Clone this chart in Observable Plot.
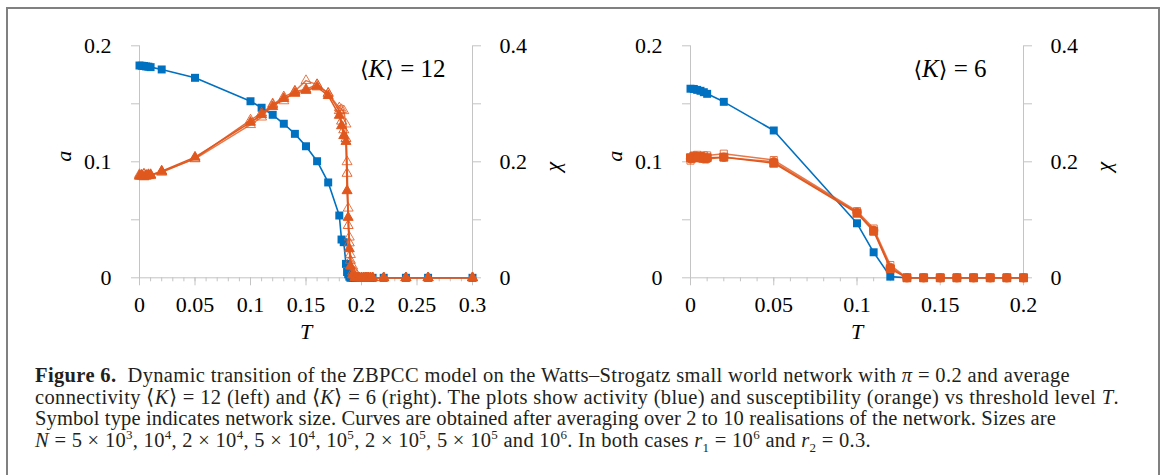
<!DOCTYPE html>
<html><head><meta charset="utf-8">
<script src="https://cdn.jsdelivr.net/npm/d3@7"></script>
<script src="https://cdn.jsdelivr.net/npm/@observablehq/plot@0.6"></script>
<style>
body{margin:0;background:#fff;width:1163px;height:475px;overflow:hidden;position:relative;font-family:"Liberation Serif",serif}
#frame{position:absolute;left:6px;top:7px;width:1150px;height:480px;border:2px solid #808080;border-bottom:none}
#left{position:absolute;left:0;top:0}
#right{position:absolute;left:551px;top:0}
#caption{position:absolute;left:35px;top:365px;font-size:20.5px;line-height:21.7px;color:#231f20;white-space:nowrap}
#caption .ln{display:block}
#caption .ln span.in{display:inline-block}
sup,sub{font-size:13px;line-height:0}
</style></head>
<body>
<div id="frame"></div>
<div id="left"></div>
<div id="right"></div>
<div id="caption">
<div class="ln"><span class="in"><b>Figure 6.</b>&nbsp; Dynamic transition of the ZBPCC model on the Watts–Strogatz small world network with <i>π</i> = 0.2 and average</span></div>
<div class="ln"><span class="in">connectivity ⟨<i>K</i>⟩ = 12 (left) and ⟨<i>K</i>⟩ = 6 (right). The plots show activity (blue) and susceptibility (orange) vs threshold level <i>T</i>.</span></div>
<div class="ln"><span class="in">Symbol type indicates network size. Curves are obtained after averaging over 2 to 10 realisations of the network. Sizes are</span></div>
<div class="ln"><span class="in"><i>N</i> = 5 × 10<sup>3</sup>, 10<sup>4</sup>, 2 × 10<sup>4</sup>, 5 × 10<sup>4</sup>, 10<sup>5</sup>, 2 × 10<sup>5</sup>, 5 × 10<sup>5</sup> and 10<sup>6</sup>. In both cases <i>r</i><sub>1</sub> = 10<sup>6</sup> and <i>r</i><sub>2</sub> = 0.3.</span></div>
</div>
<script>
// ---------- data: <K> = 12 (left panel) ----------
const T12 = [0, 0.002, 0.004, 0.006, 0.008, 0.01, 0.02, 0.05, 0.1, 0.11, 0.12, 0.13, 0.14, 0.15, 0.16, 0.17, 0.18, 0.182, 0.184, 0.186, 0.187, 0.188, 0.189, 0.19, 0.192, 0.194, 0.196, 0.198, 0.2, 0.202, 0.204, 0.206, 0.208, 0.21, 0.22, 0.24, 0.26, 0.3];
const a12 = [0.183, 0.1828, 0.1826, 0.1822, 0.182, 0.1816, 0.1796, 0.1724, 0.1522, 0.1466, 0.1405, 0.1328, 0.1241, 0.1134, 0.1005, 0.0822, 0.0537, 0.033, 0.0307, 0.012, 0.005, 0.003, 0.001, 0, 0, 0, 0, 0, 0, 0, 0, 0, 0, 0, 0, 0, 0, 0];
const chi12_large = [0.175, 0.177, 0.174, 0.176, 0.177, 0.177, 0.184, 0.208, 0.268, 0.281, 0.295, 0.309, 0.318, 0.323, 0.329, 0.314, 0.280, 0.262, 0.245, 0.235, 0.150, 0.104, 0.050, 0.020, 0.005, 0, 0, 0, 0, 0, 0, 0, 0, 0, 0, 0, 0, 0];
const chi12_mid = [0.176, 0.175, 0.178, 0.175, 0.176, 0.178, 0.182, 0.206, 0.272, 0.284, 0.298, 0.312, 0.321, 0.325, 0.333, 0.318, 0.288, 0.270, 0.255, 0.240, 0.180, 0.090, 0.060, 0.030, 0.010, 0.003, 0, 0, 0, 0, 0, 0, 0, 0, 0, 0, 0, 0];
const chi12_small = [0.178, 0.176, 0.179, 0.177, 0.178, 0.176, 0.183, 0.205, 0.264, 0.277, 0.300, 0.305, 0.322, 0.340, 0.333, 0.318, 0.293, 0.290, 0.288, 0.265, 0.200, 0.120, 0.070, 0.040, 0.020, 0.010, 0.004, 0, 0, 0, 0, 0, 0, 0, 0, 0, 0, 0];

// ---------- data: <K> = 6 (right panel) ----------
const T6 = [0, 0.002, 0.004, 0.006, 0.008, 0.01, 0.02, 0.05, 0.1, 0.11, 0.12, 0.13, 0.14, 0.15, 0.16, 0.17, 0.18, 0.19, 0.2];
const a6 = [0.163, 0.1628, 0.162, 0.1612, 0.160, 0.1586, 0.1517, 0.127, 0.047, 0.022, 0.001, 0, 0, 0, 0, 0, 0, 0, 0];
const chi6_sq = [0.207, 0.209, 0.208, 0.209, 0.207, 0.207, 0.208, 0.1976, 0.1114, 0.0803, 0.0155, 0, 0, 0, 0, 0, 0, 0, 0];
const chi6_open = [0.202, 0.211, 0.212, 0.210, 0.211, 0.211, 0.214, 0.203, 0.115, 0.085, 0.022, 0, 0, 0, 0, 0, 0, 0, 0];
const chi6_circ = [0.205, 0.206, 0.207, 0.206, 0.205, 0.205, 0.208, 0.200, 0.113, 0.082, 0.018, 0, 0, 0, 0, 0, 0, 0, 0];

// ---------- ticks ----------
const yTicks = [0, 0.05, 0.1, 0.15, 0.2];
const yLabels = ["0", "", "0.1", "", "0.2"];
const chiLabels = ["0", "", "0.2", "", "0.4"];
const xMajor12 = [0, 0.05, 0.1, 0.15, 0.2, 0.25, 0.3];
const xLabels12 = ["0", "0.05", "0.1", "0.15", "0.2", "0.25", "0.3"];
const xMajor6 = [0, 0.05, 0.1, 0.15, 0.2];
const xLabels6 = ["0", "0.05", "0.1", "0.15", "0.2"];

const BLUE = "#0070c0", ORANGE = "#e0581e", GRID = "#c4c4c4";

function rows(T, v) { return T.map((t, i) => ({T: t, v: v[i]})); }

function panel({T, a, chis, xMajor, xLabels, step, annot, annotDx}) {
  const xDomain = [xMajor[0], xMajor[xMajor.length - 1]];
  const minor = d3.range(0, Math.round(xDomain[1] / step) + 1).map(i => +(i * step).toFixed(4));
  const blue = rows(T, a);
  const marks = [
    Plot.ruleX(xDomain, {stroke: GRID}),
    Plot.ruleY([0], {stroke: GRID}),
    Plot.axisX({ticks: minor, tickSize: 4, tickFormat: () => "", stroke: GRID, label: null}),
    Plot.axisX({ticks: xMajor, tickSize: 8, tickPadding: 11, tickFormat: d => xLabels[xMajor.indexOf(d)], stroke: GRID, label: null}),
    Plot.axisY({ticks: yTicks, tickSize: 8, tickPadding: 20, tickFormat: d => yLabels[yTicks.indexOf(d)], stroke: GRID, label: null}),
    Plot.axisY({anchor: "right", ticks: yTicks, tickSize: 8, tickPadding: 19, tickFormat: d => chiLabels[yTicks.indexOf(d)], stroke: GRID, label: null}),
    Plot.text(["T"], {frameAnchor: "bottom", dy: 61, fontStyle: "italic"}),
    Plot.text(["a"], {frameAnchor: "left", dx: -76, rotate: -90, fontStyle: "italic"}),
    Plot.text(["χ"], {frameAnchor: "right", dx: 80, rotate: -90, fontStyle: "italic"}),
    Plot.text([annot], {frameAnchor: "top-right", textAnchor: "end", dx: annotDx, dy: 13, fontSize: 25, className: "annot"}),
    Plot.line(blue, {x: "T", y: "v", stroke: BLUE, strokeWidth: 1.6}),
    Plot.dot(blue, {x: "T", y: "v", symbol: "square", fill: BLUE, r: 4.5})
  ];
  for (const c of chis) {
    const d = rows(T, c.v);
    marks.push(Plot.line(d, {x: "T", y: dd => dd.v / 2, stroke: ORANGE, strokeWidth: 1.5, strokeOpacity: c.op}));
    marks.push(Plot.dot(d, {x: "T", y: dd => dd.v / 2, symbol: c.sym, r: c.r,
      fill: c.filled ? ORANGE : "white", fillOpacity: c.filled ? 1 : 0, stroke: ORANGE, strokeWidth: 1, strokeOpacity: c.op}));
  }
  const svg = Plot.plot({
    width: 580, height: 350,
    marginLeft: 139, marginRight: 108, marginTop: 45.3, marginBottom: 72.7,
    x: {domain: xDomain}, y: {domain: [0, 0.2]},
    style: {fontFamily: "'Liberation Serif', serif", fontSize: "22px", color: "#000", background: "transparent", overflow: "visible"},
    marks
  });
  d3.select(svg).selectAll(".annot text").each(function() {
    const t = d3.select(this).text();
    const m = t.match(/^⟨K⟩ = (\d+)$/);
    if (m) d3.select(this).html(`<tspan font-family="DejaVu Serif" font-size="22">⟨</tspan><tspan font-style="italic">K</tspan><tspan font-family="DejaVu Serif" font-size="22">⟩</tspan> = ${m[1]}`);
  });
  return svg;
}

document.getElementById("left").append(panel({
  T: T12, a: a12, step: 0.01, xMajor: xMajor12, xLabels: xLabels12, annot: "⟨K⟩ = 12", annotDx: -27,
  chis: [
    {v: chi12_small, sym: "triangle", filled: false, r: 3.7, op: 0.8},
    {v: chi12_mid, sym: "triangle", filled: false, r: 3.7, op: 0.9},
    {v: chi12_large, sym: "triangle", filled: true, r: 3.7, op: 1}
  ]
}));
document.getElementById("right").append(panel({
  T: T6, a: a6, step: 0.01, xMajor: xMajor6, xLabels: xLabels6, annot: "⟨K⟩ = 6", annotDx: -37,
  chis: [
    {v: chi6_open, sym: "square", filled: false, r: 4, op: 0.8},
    {v: chi6_circ, sym: "circle", filled: true, r: 4.2, op: 0.9},
    {v: chi6_sq, sym: "square", filled: true, r: 4.5, op: 1}
  ]
}));

// fit the first three caption lines to the widths seen in the reference; the last uses their mean spacing
const lineWidths = [1035, 1084, 1021];
const spans = [...document.querySelectorAll("#caption .in")];
const sp = [];
spans.forEach((el, i) => {
  if (i < lineWidths.length) {
    const s = (lineWidths[i] - el.getBoundingClientRect().width) / el.textContent.length;
    sp.push(s);
    el.style.letterSpacing = s + "px";
  } else {
    el.style.letterSpacing = d3.mean(sp) + "px";
  }
});
</script>
</body></html>
